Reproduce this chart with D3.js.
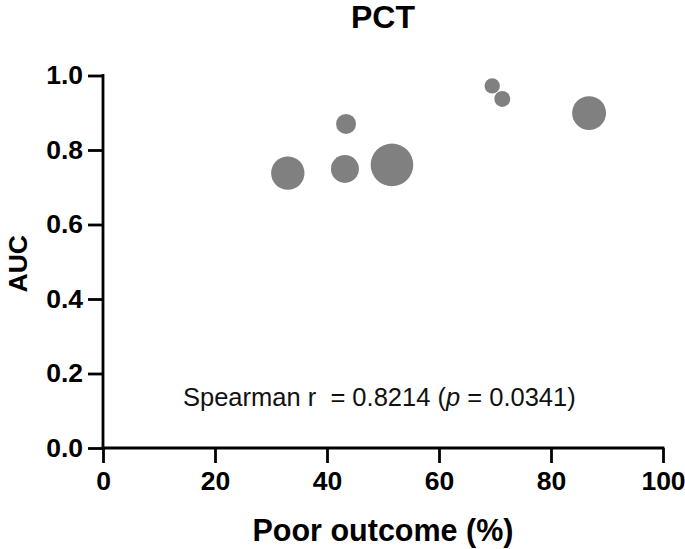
<!DOCTYPE html>
<html>
<head>
<meta charset="utf-8">
<script src="https://cdn.jsdelivr.net/npm/d3@7/dist/d3.min.js"></script>
<style>
  html, body { margin: 0; padding: 0; background: #fff; }
  svg { display: block; font-family: "Liberation Sans", Arial, sans-serif; }
</style>
</head>
<body>
<svg id="chart" width="685" height="549"></svg>
<script>
const title = "PCT";
const xTitle = "Poor outcome (%)";
const yTitle = "AUC";
const poorOutcome = [33.0, 43.2, 51.6, 43.4, 69.5, 71.3, 86.8];
const auc = [0.738, 0.749, 0.760, 0.870, 0.972, 0.937, 0.899];
const sampleSize = [123, 86, 200, 44, 26, 28, 127];
const xTicks = [0, 20, 40, 60, 80, 100];
const yTicks = [0.0, 0.2, 0.4, 0.6, 0.8, 1.0];

const svg = d3.select("#chart");
const x = d3.scaleLinear().domain([0, 100]).range([103, 663]);
const y = d3.scaleLinear().domain([0, 1]).range([448, 75.5]);
const r = d3.scaleSqrt().domain([0, 200]).range([0, 21.3]);

const pts = poorOutcome.map((v, i) => ({x: v, y: auc[i], n: sampleSize[i]}));

// points
svg.append("g").selectAll("circle").data(pts).join("circle")
  .attr("cx", d => x(d.x)).attr("cy", d => y(d.y)).attr("r", d => r(d.n))
  .attr("fill", "#808080");

// axes
const xAxis = svg.append("g").attr("transform", `translate(0,${y(0)})`)
  .call(d3.axisBottom(x).tickValues(xTicks).tickSize(15).tickPadding(8).tickFormat(d3.format("d")));
const yAxis = svg.append("g").attr("transform", `translate(${x(0)},0)`)
  .call(d3.axisLeft(y).tickValues(yTicks).tickSize(15).tickPadding(5).tickFormat(d3.format(".1f")));
[xAxis, yAxis].forEach(g => {
  g.select(".domain").attr("stroke", "#000").attr("stroke-width", 2.8);
  g.selectAll(".tick line").attr("stroke", "#000").attr("stroke-width", 2.8);
  g.selectAll(".tick text").attr("fill", "#000").attr("font-size", 26.5).attr("font-weight", "bold")
   .attr("font-family", "'Liberation Sans', Arial, sans-serif");
});
xAxis.select(".domain").attr("d", `M${x(0)},0H${x(100)}`).attr("stroke-linecap", "square");
yAxis.select(".domain").attr("d", `M0,${y(1)}V${y(0)}`).attr("stroke-linecap", "square");

// titles
svg.append("text").attr("x", (x(0) + x(100)) / 2).attr("y", 28)
  .attr("text-anchor", "middle").attr("font-size", 32).attr("font-weight", "bold").text(title);
svg.append("text").attr("x", (x(0) + x(100)) / 2).attr("y", 541)
  .attr("text-anchor", "middle").attr("font-size", 30.5).attr("font-weight", "bold").text(xTitle);
svg.append("text").attr("transform", `translate(27,${(y(0) + y(1)) / 2 + 2}) rotate(-90)`)
  .attr("text-anchor", "middle").attr("font-size", 26.5).attr("font-weight", "bold").text(yTitle);

// annotation
const ann = svg.append("text").attr("x", 183).attr("y", 406).attr("font-size", 25.5).attr("fill", "#111")
  .attr("xml:space", "preserve").style("white-space", "pre");
ann.append("tspan").text("Spearman r  = 0.8214 (");
ann.append("tspan").attr("font-style", "italic").text("p");
ann.append("tspan").text(" = 0.0341)");
</script>
</body>
</html>
